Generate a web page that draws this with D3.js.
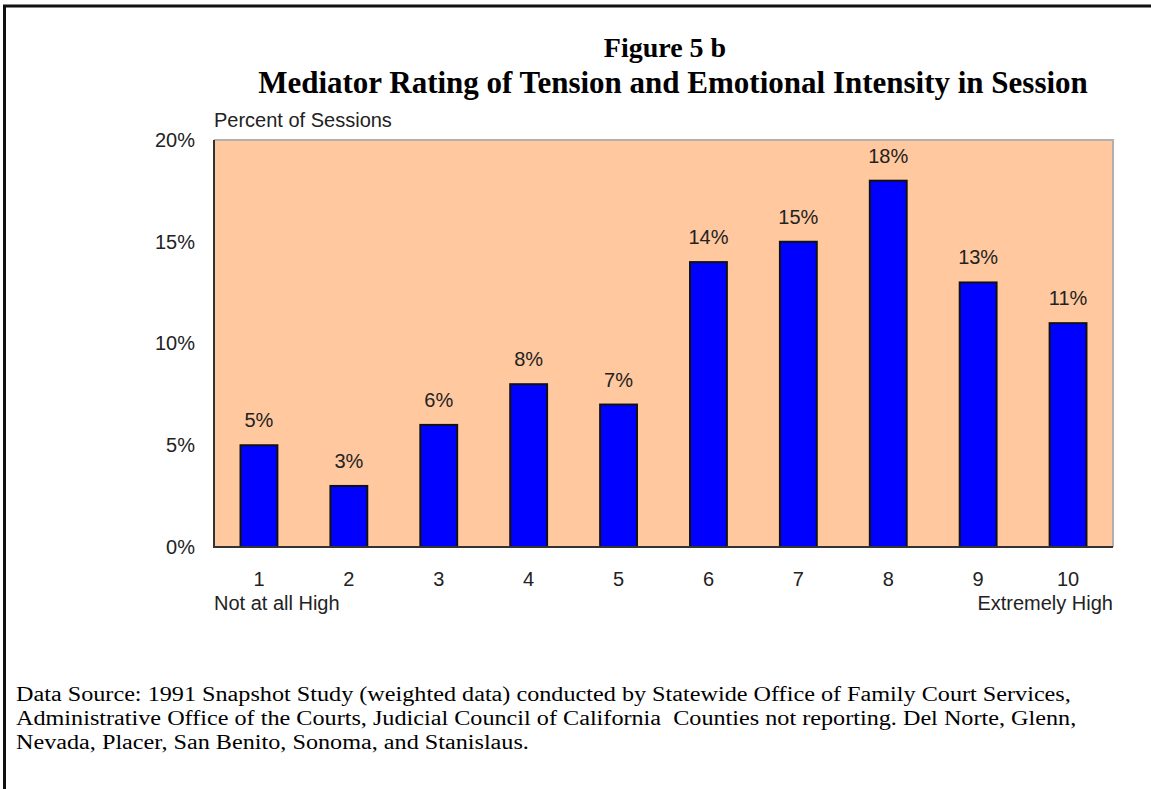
<!DOCTYPE html>
<meta charset="utf-8">
<title>Figure 5 b</title>
<style>
    body { margin: 0; background: #fff; }
    svg { display: block; }
</style>
<body>
<script src="https://cdn.jsdelivr.net/npm/d3@7"></script>
<script>

    var categories = ["1", "2", "3", "4", "5", "6", "7", "8", "9", "10"];
    var values = [5, 3, 6, 8, 7, 14, 15, 18, 13, 11];
    var yTicks = [0, 5, 10, 15, 20];
    var endLabels = ["Not at all High", "Extremely High"];
    var titleLines = ["Figure 5 b", "Mediator Rating of Tension and Emotional Intensity in Session"];
    var sourceLines = [
        "Data Source: 1991 Snapshot Study (weighted data) conducted by Statewide Office of Family Court Services,",
        "Administrative Office of the Courts, Judicial Council of California  Counties not reporting. Del Norte, Glenn,",
        "Nevada, Placer, San Benito, Sonoma, and Stanislaus."
    ];

    var width = 1151,
        height = 789,
        plot = { left: 214, top: 140, right: 1113, bottom: 547 };

    var sans = "Arial, 'Liberation Sans', sans-serif",
        serif = "'Times New Roman', 'Liberation Serif', serif",
        labelSize = "20px",
        ink = "#222";

    var svg = d3.select("body").append("svg")
        .attr("width", width)
        .attr("height", height);

    // page frame: only left and top edges are visible
    svg.append("path")
        .attr("d", "M4.5," + height + "V6H" + width)
        .attr("fill", "none")
        .attr("stroke", "#111")
        .attr("stroke-width", 3);

    // titles
    svg.selectAll("text.title")
        .data(titleLines)
        .enter().append("text")
        .attr("class", "title")
        .attr("x", function(d, i) { return i ? 673 : 665; })
        .attr("y", function(d, i) { return i ? 93 : 57; })
        .attr("text-anchor", "middle")
        .style("font-family", serif)
        .style("font-weight", "bold")
        .style("font-size", function(d, i) { return i ? "31px" : "28px"; })
        .text(function(d) { return d; });

    var x = d3.scaleBand()
        .domain(categories)
        .range([plot.left, plot.right])
        .paddingInner(0.59)
        .paddingOuter(0.295);

    var y = d3.scaleLinear()
        .domain([0, 20])
        .range([plot.bottom, plot.top]);

    // plot background
    svg.append("rect")
        .attr("x", plot.left)
        .attr("y", plot.top)
        .attr("width", plot.right - plot.left)
        .attr("height", plot.bottom - plot.top)
        .attr("fill", "#ffc89e");

    svg.append("path")
        .attr("d", "M" + plot.left + "," + plot.top + "H" + plot.right + "V" + plot.bottom)
        .attr("fill", "none")
        .attr("stroke", "#b0b0b0")
        .attr("stroke-width", 2);

    // y axis
    var yAxis = svg.append("g")
        .attr("transform", "translate(" + plot.left + ",0)")
        .call(d3.axisLeft(y).tickValues(yTicks).tickSize(0).tickPadding(19)
            .tickFormat(function(d) { return d + "%"; }));
    yAxis.select(".domain").remove();
    yAxis.selectAll("text")
        .style("font-family", sans)
        .style("font-size", labelSize)
        .attr("fill", ink);

    svg.append("text")
        .attr("x", plot.left)
        .attr("y", 127)
        .style("font-family", sans)
        .style("font-size", labelSize)
        .attr("fill", ink)
        .text("Percent of Sessions");

    // bars
    svg.selectAll("rect.bar")
        .data(values)
        .enter().append("rect")
        .attr("class", "bar")
        .attr("x", function(d, i) { return x(categories[i]); })
        .attr("y", function(d) { return y(d); })
        .attr("width", x.bandwidth())
        .attr("height", function(d) { return y(0) - y(d); })
        .attr("fill", "#0000ff")
        .attr("stroke", "#111")
        .attr("stroke-width", 2);

    svg.selectAll("text.value")
        .data(values)
        .enter().append("text")
        .attr("class", "value")
        .attr("x", function(d, i) { return x(categories[i]) + x.bandwidth() / 2; })
        .attr("y", function(d) { return y(d) - 18; })
        .attr("text-anchor", "middle")
        .style("font-family", sans)
        .style("font-size", labelSize)
        .attr("fill", ink)
        .text(function(d) { return d + "%"; });

    // axis lines: left and bottom dark
    svg.append("path")
        .attr("d", "M" + plot.left + "," + plot.top + "V" + plot.bottom + "H" + plot.right)
        .attr("fill", "none")
        .attr("stroke", "#333")
        .attr("stroke-width", 2);

    // x axis
    var xAxis = svg.append("g")
        .attr("transform", "translate(0," + plot.bottom + ")")
        .call(d3.axisBottom(x).tickSize(0).tickPadding(25));
    xAxis.select(".domain").remove();
    xAxis.selectAll("text")
        .style("font-family", sans)
        .style("font-size", labelSize)
        .attr("fill", ink);

    svg.append("text")
        .attr("x", plot.left)
        .attr("y", 610)
        .style("font-family", sans)
        .style("font-size", labelSize)
        .attr("fill", ink)
        .text(endLabels[0]);

    svg.append("text")
        .attr("x", plot.right)
        .attr("y", 610)
        .attr("text-anchor", "end")
        .style("font-family", sans)
        .style("font-size", labelSize)
        .attr("fill", ink)
        .text(endLabels[1]);

    // source note (the original type is set slightly wide)
    svg.append("g")
        .attr("transform", "translate(16,0) scale(1.21,1)")
        .selectAll("text.source")
        .data(sourceLines)
        .enter().append("text")
        .attr("class", "source")
        .attr("x", 0)
        .attr("y", function(d, i) { return 701 + i * 24; })
        .style("font-family", serif)
        .style("font-size", "20px")
        .attr("fill", "#000")
        .style("white-space", "pre")
        .text(function(d) { return d; });

</script>
